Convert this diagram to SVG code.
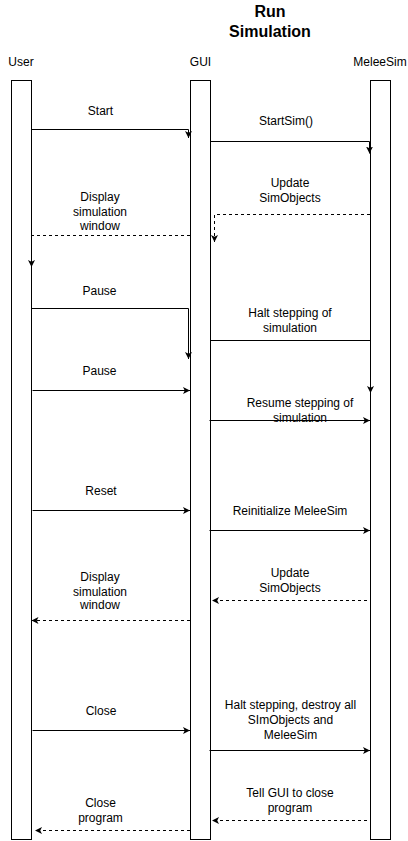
<svg xmlns="http://www.w3.org/2000/svg" width="408" height="841" viewBox="0 0 408 841">
<style>
text{font-family:"Liberation Sans",Arial,Helvetica,sans-serif;font-size:12px;fill:#000;text-anchor:middle}
.title{font-size:16px;font-weight:bold}
.life{fill:#fff;stroke:#000;stroke-width:1}
.msg{fill:none;stroke:#000;stroke-width:1;marker-end:url(#arr)}
.ret{stroke-dasharray:3 3}
</style>
<defs>
<marker id="arr" markerUnits="userSpaceOnUse" markerWidth="8" markerHeight="8" refX="7" refY="3.5" orient="auto">
<path d="M0,0 L7,3.5 L0,7 L1.75,3.5 Z" fill="#000"/>
</marker>
</defs>
<rect width="408" height="841" fill="#fff"/>
<g id="title">
<text class="title" x="270" y="16.5">Run</text>
<text class="title" x="270" y="36.5">Simulation</text>
</g>
<g id="user">
<text x="21" y="66">User</text>
<rect class="life" x="11.5" y="80.5" width="20" height="759"/>
</g>
<g id="gui">
<text x="200.5" y="66">GUI</text>
<rect class="life" x="190.5" y="80.5" width="20" height="759"/>
</g>
<g id="meleesim">
<text x="380" y="66">MeleeSim</text>
<rect class="life" x="370.5" y="80.5" width="20" height="759"/>
</g>
<g id="connectors">
<path class="msg" d="M31.5 129.5 H188.5 V138"/>
<path class="msg" d="M210.5 141.5 H369.5 V153.5"/>
<path class="msg ret" d="M370 214.5 H214.5 V242"/>
<path class="msg ret" d="M190 235.5 H31.5 V267"/>
<path class="msg" d="M31.5 308.5 H188.5 V359"/>
<path class="msg" d="M210.5 340.5 H370.5 V393"/>
<path class="msg" d="M32.5 390.5 H190"/>
<path class="msg" d="M209.5 420.5 H370"/>
<path class="msg" d="M32.5 510.5 H190"/>
<path class="msg" d="M209.5 530.5 H370"/>
<path class="msg ret" d="M367 600.5 H212"/>
<path class="msg ret" d="M190 620.5 H31.5"/>
<path class="msg" d="M32.5 730.5 H190"/>
<path class="msg" d="M209.5 750.5 H370"/>
<path class="msg ret" d="M367 820.5 H212"/>
<path class="msg ret" d="M190 830.5 H35"/>
</g>
<g id="labels">
<text x="100.5" y="115">Start</text>
<text x="286" y="125">StartSim()</text>
<text x="290" y="187">Update</text>
<text x="290" y="202">SimObjects</text>
<text x="100" y="200.5">Display</text>
<text x="100" y="215.5">simulation</text>
<text x="100" y="229.5">window</text>
<text x="99.5" y="295">Pause</text>
<text x="290" y="317">Halt stepping of</text>
<text x="290" y="332">simulation</text>
<text x="99.5" y="375">Pause</text>
<text x="300" y="407">Resume stepping of</text>
<text x="300" y="421.5">simulation</text>
<text x="101" y="495">Reset</text>
<text x="290" y="514.5">Reinitialize MeleeSim</text>
<text x="290" y="577">Update</text>
<text x="290" y="592">SimObjects</text>
<text x="100" y="581">Display</text>
<text x="100" y="595.5">simulation</text>
<text x="100" y="609">window</text>
<text x="101" y="715">Close</text>
<text x="290.5" y="708.5">Halt stepping, destroy all</text>
<text x="290.5" y="723.5">SImObjects and</text>
<text x="290.5" y="738.5">MeleeSim</text>
<text x="290" y="797">Tell GUI to close</text>
<text x="290" y="811.5">program</text>
<text x="100.5" y="807">Close</text>
<text x="100.5" y="821.5">program</text>
</g>
</svg>
